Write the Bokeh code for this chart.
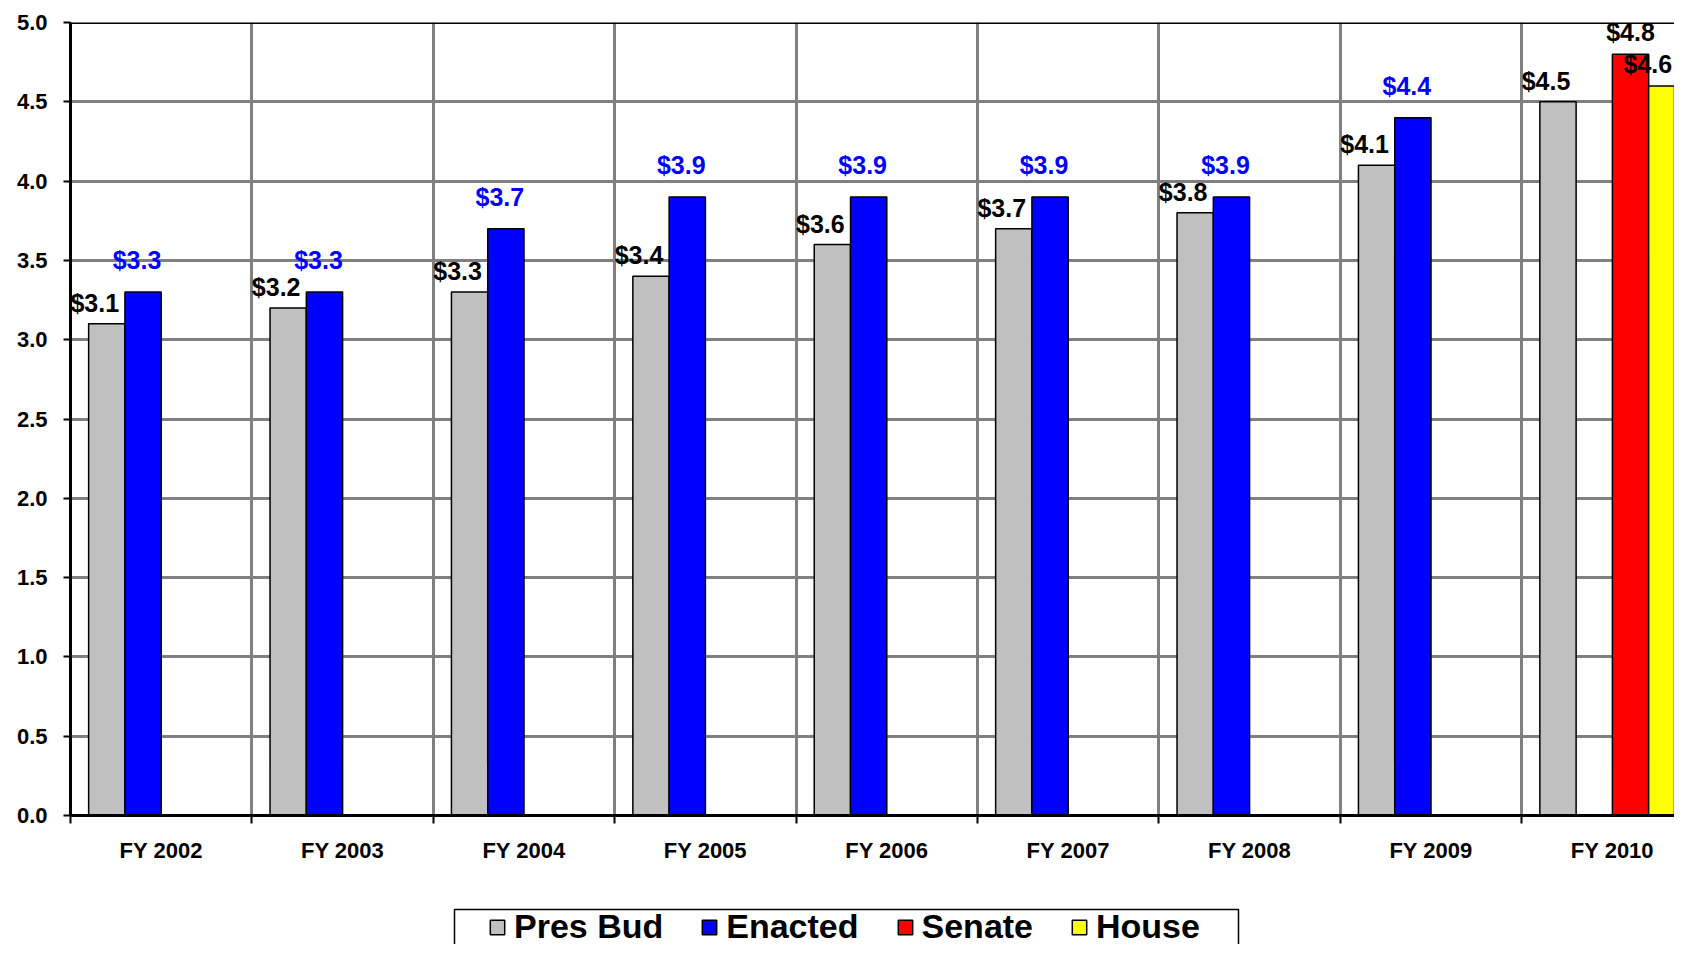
from bokeh.plotting import figure
from bokeh.layouts import column
from bokeh.models import (ColumnDataSource, Range1d, FixedTicker, LabelSet, Span,
                          Legend, LegendItem, NumeralTickFormatter)
from bokeh.core.properties import value
from bokeh.embed import file_html
from bokeh.resources import INLINE

# ---------------- data ----------------
categories = ["FY 2002", "FY 2003", "FY 2004", "FY 2005", "FY 2006",
              "FY 2007", "FY 2008", "FY 2009", "FY 2010"]
pres_bud = [3.1, 3.2, 3.3, 3.4, 3.6, 3.7, 3.8, 4.1, 4.5]
enacted = [3.3, 3.3, 3.7, 3.9, 3.9, 3.9, 3.9, 4.4, None]
senate = [None, None, None, None, None, None, None, None, 4.8]
house = [None, None, None, None, None, None, None, None, 4.6]
y_ticks = [0.0, 0.5, 1.0, 1.5, 2.0, 2.5, 3.0, 3.5, 4.0, 4.5, 5.0]

FONT = "Liberation Sans"

# name, values, fill, dodge, label colour, label x offset, label y offset
series = [
    ("Pres Bud", pres_bud, "#C0C0C0", -0.3, "black", -12, 21),
    ("Enacted", enacted, "#0000FF", -0.1, "#0000FF", -6, 32),
    ("Senate", senate, "#FF0000", 0.1, "black", 0, 22),
    ("House", house, "#FFFF00", 0.3, "black", -19, 22),
]

W = 1674
LEFT = 70
H_MAIN = 890
H_LEG = 54

p = figure(width=W, height=H_MAIN, output_backend="svg", toolbar_location=None,
           title=None,
           x_range=Range1d(0, (W - LEFT) / 181.4), y_range=Range1d(0, 5),
           min_border_left=LEFT, min_border_right=0, min_border_top=22,
           min_border_bottom=H_MAIN - 815)
p.outline_line_color = None
p.background_fill_color = "white"
p.border_fill_color = "white"

# grids
p.xgrid.ticker = FixedTicker(ticks=list(range(0, 10)))
p.ygrid.ticker = FixedTicker(ticks=y_ticks)
for g in (p.xgrid, p.ygrid):
    g.grid_line_color = "#808080"
    g.grid_line_width = 3

# x axis: labels at category centres, tick marks at category boundaries
xa = p.xaxis[0]
xa.ticker = FixedTicker(ticks=[i + 0.5 for i in range(len(categories))],
                        minor_ticks=list(range(0, len(categories) + 1)))
xa.major_label_overrides = {i + 0.5: c for i, c in enumerate(categories)}
xa.major_tick_in = 0
xa.major_tick_out = 0
xa.minor_tick_in = 0
xa.minor_tick_out = 8
xa.minor_tick_line_color = "black"
xa.minor_tick_line_width = 2
xa.axis_line_color = "black"
xa.axis_line_width = 3
xa.major_label_standoff = 14
xa.major_label_text_font = FONT
xa.major_label_text_font_style = "bold"
xa.major_label_text_font_size = "22px"
xa.major_label_text_color = "black"

ya = p.yaxis[0]
ya.ticker = FixedTicker(ticks=y_ticks)
ya.formatter = NumeralTickFormatter(format="0.0")
ya.major_tick_in = 0
ya.major_tick_out = 7
ya.major_tick_line_width = 2
ya.major_tick_line_color = "black"
ya.minor_tick_line_color = None
ya.axis_line_color = "black"
ya.axis_line_width = 3
ya.major_label_standoff = 16
ya.major_label_text_font = FONT
ya.major_label_text_font_style = "bold"
ya.major_label_text_font_size = "22px"
ya.major_label_text_color = "black"

p.add_layout(Span(location=5, dimension="width", line_color="black", line_width=3))

# ---------------- legend strip (screen-pixel coordinates) ----------------
lg = figure(width=W, height=H_LEG, output_backend="svg", toolbar_location=None,
            title=None, x_range=Range1d(LEFT, W), y_range=Range1d(0, H_LEG),
            min_border_left=LEFT, min_border_right=0, min_border_top=0,
            min_border_bottom=0, x_axis_location=None, y_axis_location=None)
lg.grid.visible = False
lg.outline_line_color = None
lg.background_fill_color = "white"
lg.border_fill_color = "white"
# legend frame (its lower edge is cut by the page edge, as in the original)
lg.quad(left=[454], right=[1238], top=[H_MAIN + H_LEG - 909], bottom=[-30],
        fill_color="white", line_color="black", line_width=1.5)

items = []
for name, vals, fill, dodge, lcol, dx, dy in series:
    idx = [i for i, v in enumerate(vals) if v is not None]
    src = ColumnDataSource(dict(
        x=[i + 0.5 + dodge for i in idx],
        top=[vals[i] for i in idx],
        label=["$%.1f" % vals[i] for i in idx],
    ))
    p.vbar(x="x", top="top", bottom=0, width=0.2, source=src,
           fill_color=fill, line_color="black", line_width=1.5)
    p.add_layout(LabelSet(x="x", y="top", text="label", source=src,
                          text_align="center", text_baseline="middle",
                          x_offset=dx, y_offset=dy, text_font=value(FONT),
                          text_font_style="bold", text_font_size="25px",
                          text_color=lcol))
    # hidden copy of the series in the legend strip: only its style is used
    proxy = lg.vbar(x="x", top="top", bottom=0, width=0.2, source=src,
                    fill_color=fill, line_color="black", line_width=1.5,
                    visible=False)
    items.append(LegendItem(label=name, renderers=[proxy]))

legend = Legend(items=items, orientation="horizontal",
                location=(488 - LEFT, -2),
                label_text_font=FONT, label_text_font_style="bold",
                label_text_font_size="34px", label_text_color="black",
                glyph_width=18, glyph_height=18, label_standoff=8,
                spacing=37, padding=10, margin=0, click_policy="none",
                border_line_color=None, background_fill_alpha=0.0)
lg.add_layout(legend)

layout = column(p, lg, spacing=0)
open("out.html", "w").write(file_html(layout, INLINE))
